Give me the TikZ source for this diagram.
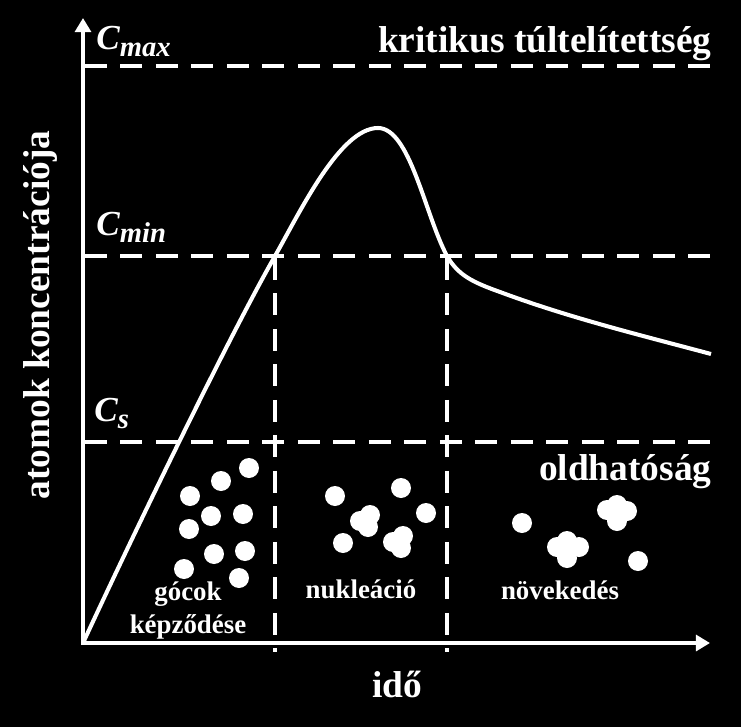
\documentclass[tikz,border=0pt]{standalone}
\usepackage{fontspec}
\setmainfont{Liberation Serif}
\usetikzlibrary{arrows.meta}
\tikzset{axis/.style = {line width=2.6pt, white, -{Triangle[length=8pt, width=9pt]}}}
\tikzset{level/.style = {line width=2.3pt, white, dash pattern=on 12.5pt off 7.7pt}}
\tikzset{curve/.style = {line width=2.3pt, white}}
\tikzset{atom/.style = {circle, fill=white, inner sep=0pt, minimum size=0.4cm}}
\tikzset{big/.style = {text=white, inner sep=0pt, font=\fontsize{21.3}{24}\selectfont\bfseries}}
\tikzset{phase/.style = {text=white, inner sep=0pt, anchor=base, font=\fontsize{15.3}{18}\selectfont\bfseries}}
\tikzset{conc/.style = {text=white, inner sep=0pt, anchor=base west, font=\bfseries\itshape}}
\newcommand{\conclabel}[1]{{\fontsize{20}{20}\selectfont C}{\fontsize{16.3}{16}\selectfont\raisebox{-4.3pt}{#1}}}

\begin{document}
\begin{tikzpicture}[x=0.02cm, y=-0.02cm]
  \fill[black] (0,0) rectangle (741,727);
  \useasboundingbox (0,0) rectangle (741,727);

  % axes
  \coordinate (O) at (83,643);
  \coordinate (ytop) at (83,18);
  \coordinate (xend) at (710,643);
  \draw[axis] (83,645) -- (ytop);
  \draw[axis] (81,643) -- (xend);

  % levels
  \draw[level] (85,66) -- (710,66);
  \draw[level] (85,256) -- (710,256);
  \draw[level] (85,442) -- (710,442);
  \draw[level] (275,258) -- (275,652);
  \draw[level] (447,258) -- (447,652);

  % concentration
  \draw[curve] (O) .. controls (140,520) and (230,335) .. (275,256)
    .. controls (300,212) and (340,128) .. (378,128)
    .. controls (410,128) and (425,215) .. (447,256)
    .. controls (458,275) and (472,282) .. (500,292)
    .. controls (570,318) and (640,335) .. (711,354);

  \node[conc] (cmax) at (96,49) {\conclabel{max}};
  \node[conc] (cmin) at (96,235) {\conclabel{min}};
  \node[conc] (cs) at (94,421) {\conclabel{s}};
  \node[big, anchor=base east] (critical) at (712,52) {kritikus túltelítettség};
  \node[big, anchor=base east] (solubility) at (712,480) {oldhatóság};
  \node[big, rotate=90, anchor=base] (ylabel) at (50,315) {atomok koncentrációja};
  \node[big, anchor=base] (xlabel) at (397,697) {idő};

  % atoms
  \foreach \x/\y [count=\i] in {249/468, 221/481, 190/496, 211/516, 243/514, 189/529,
      214/554, 245/551, 184/569, 239/578,
      335/496, 401/488, 426/513, 343/543, 360/521, 370/515, 368/527, 393/542, 403/536, 401/548,
      522/523, 638/561, 617/505, 607/510, 627/511, 617/521, 567/541, 557/547, 579/547, 567/558}
    \node[atom] (a\i) at (\x,\y) {};

  \node[phase] (nuclei) at (188,600) {gócok};
  \node[phase] (forming) at (188,633) {képződése};
  \node[phase] (nucleation) at (361,598) {nukleáció};
  \node[phase] (growth) at (560,599) {növekedés};
\end{tikzpicture}
\end{document}
